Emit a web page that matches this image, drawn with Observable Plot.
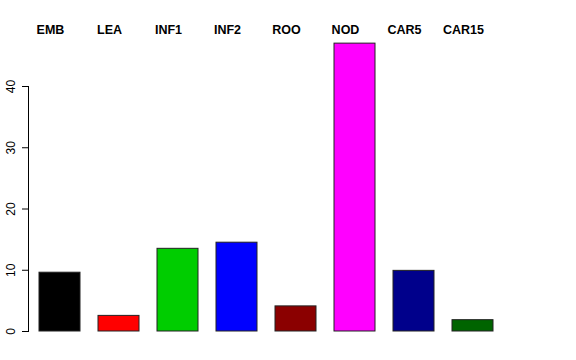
<!DOCTYPE html>
<html>
<head>
<meta charset="utf-8">
<script src="https://cdn.jsdelivr.net/npm/d3@7"></script>
<script src="https://cdn.jsdelivr.net/npm/@observablehq/plot@0.6"></script>
<style>
  html, body { margin: 0; padding: 0; background: #fff; }
  #chart svg { display: block; }
</style>
</head>
<body>
<div id="chart"></div>
<script>
const categories = ["EMB", "LEA", "INF1", "INF2", "ROO", "NOD", "CAR5", "CAR15"];
const values = [9.6, 2.55, 13.5, 14.5, 4.1, 47.0, 9.9, 1.85];
const colors = ["#000000", "#FF0000", "#00CD00", "#0000FF", "#8B0000", "#FF00FF", "#00008B", "#006400"];
const yTicks = [0, 10, 20, 30, 40];

const data = categories.map((c, i) => ({cat: c, value: values[i], color: colors[i]}));

const chart = Plot.plot({
  width: 576,
  height: 360,
  marginLeft: 38.3,
  marginRight: 81.3,
  marginTop: 86,
  marginBottom: 29,
  style: {fontFamily: "Liberation Sans, Arial, Helvetica, sans-serif", background: "#fff", color: "#000"},
  x: {domain: categories, paddingInner: 0.297, paddingOuter: 0, axis: null},
  y: {domain: [0, 40], axis: null},
  marks: [
    Plot.barY(data, {x: "cat", y: "value", fill: "color", stroke: "#222", strokeWidth: 1}),
    Plot.frame({anchor: "left", dx: -10.3, stroke: "#000"}),
    Plot.axisY({ticks: yTicks, label: null, tickSize: 6, dx: -10.3, tickRotate: -90, tickPadding: 8, fontSize: 12, textAnchor: "middle", stroke: "#000"}),
    Plot.text(categories, {x: d => d, frameAnchor: "top", dy: -52.5, dx: -9.5, lineAnchor: "bottom", fontWeight: "bold", fontSize: 12.5, fill: "#000"})
  ]
});
document.getElementById("chart").appendChild(chart);
</script>
</body>
</html>
